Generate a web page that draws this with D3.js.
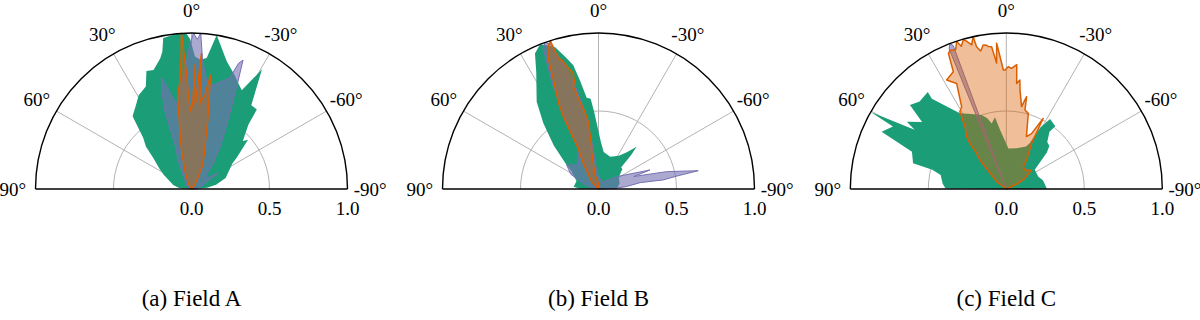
<!DOCTYPE html>
<html>
<head>
<meta charset="utf-8">
<script src="https://cdn.jsdelivr.net/npm/d3@7"></script>
<style>
  body { margin: 0; background: #fff; }
</style>
</head>
<body>
<svg id="chart" width="1200" height="320"></svg>
<script>
const angleTicks = [90, 60, 30, 0, -30, -60, -90];
const gridAngles = [60, 30, 0, -30, -60];
const radiusTicks = [0.0, 0.5, 1.0];
const captions = ["(a) Field A", "(b) Field B", "(c) Field C"];
const seriesColors = ["#1b9e77", "#7570b3", "#d95f02"];

// vertices as [angle in degrees (positive = left of 0°), normalised radius]
const greenA = [[0,0],[-85,0.1],[-80,0.16],[-72,0.23],[-58,0.31],[-55.5,0.35],[-49,0.48],[-47,0.45],
  [-41.5,0.55],[-39.4,0.66],[-35.5,0.66],[-30.5,0.89],[-27,0.71],[-24,0.74],[-20.8,0.78],[-15.4,0.85],
  [-9.3,1.0],[-6.6,0.845],[-4,0.83],[-1.5,0.85],[0.5,0.96],[2,1.0],[5.5,1.0],[10.6,0.985],[12,0.9],
  [13.5,0.86],[17.7,0.8],[20.9,0.81],[24,0.72],[29.4,0.69],[33,0.65],[39,0.6],[43.4,0.45],[47,0.4],
  [51,0.315],[58,0.24],[63,0.2],[70,0.15],[77.8,0.12],[85,0.08]];
const purpleA = [[0,0],[-85,0.04],[-70,0.08],[-63,0.12],[-59,0.2],[-56,0.13],[-48,0.12],[-40,0.22],
  [-33,0.35],[-27,0.54],[-23.8,0.72],[-21.8,0.89],[-20.5,0.86],[-19,0.75],[-16,0.72],[-12,0.68],
  [-8,0.7],[-5,0.82],[-3.4,1.0],[-2.2,0.96],[-0.7,1.0],[1,0.9],[2.5,0.8],[5,0.7],[8,0.6],[10,0.55],
  [13,0.65],[15,0.737],[17,0.65],[18.8,0.526],[20.4,0.3],[25,0.2],[29,0.13],[40,0.06],[60,0.03]];
const orangeA = [[0,0],[-40,0.03],[-30,0.08],[-25,0.17],[-20,0.24],[-16,0.33],[-13,0.47],[-11.5,0.55],
  [-9.5,0.74],[-8,0.6],[-6.5,0.58],[-5.5,0.55],[-4.2,0.87],[-3,0.6],[-2.5,0.55],[-1.7,0.8],[-0.8,0.55],
  [0.5,0.5],[1.5,0.55],[2.5,0.75],[3.7,1.0],[4.5,0.85],[6,0.7],[8.5,0.6],[9,0.55],[10,0.45],[12,0.35],
  [15,0.24],[20,0.12],[30,0.04]];

const greenB = [[0,0],[-88,0.12],[-75,0.14],[-60,0.15],[-50,0.2],[-46.3,0.2],[-44,0.3],[-42,0.365],
  [-38,0.3],[-31.5,0.25],[-20,0.22],[-8,0.24],[-3,0.3],[3.3,0.5],[5,0.58],[7.4,0.59],[9.6,0.7],
  [11.5,0.81],[14,0.87],[17,0.95],[19.8,0.98],[22,1.0],[25.1,0.96],[28,0.85],[32,0.75],[35.3,0.686],
  [40,0.55],[45.8,0.4],[50,0.3],[53,0.256],[57,0.205],[62,0.18],[70,0.15],[84.7,0.16],[89,0.12]];
const purpleB = [[0,0],[-88,0.1],[-85,0.18],[-81.3,0.27],[-82,0.42],[-80.6,0.51],[-79.6,0.65],
  [-75.7,0.45],[-70.5,0.24],[-69.7,0.352],[-58.8,0.161],[-30,0.05],[5,0.1],[8,0.3],[10,0.5],[13,0.7],
  [16,0.85],[18.5,0.98],[20,1.0],[21.5,0.97],[23.5,0.75],[25.5,0.5],[26.5,0.3],[40,0.2],[53,0.256],
  [62,0.2],[75,0.08]];
const orangeB = [[0,0],[-10,0.02],[5,0.05],[14,0.09],[10.4,0.243],[9.2,0.275],[8.6,0.437],[10,0.5],
  [12,0.572],[13.8,0.676],[12.7,0.7],[12.3,0.759],[14,0.8],[15.9,0.86],[17.1,0.876],[18,0.995],
  [19.5,0.97],[21,0.9],[22.5,0.756],[25,0.6],[25.9,0.516],[26.4,0.3],[30.6,0.191],[43,0.064]];

const greenC = [[0,0],[-89.5,0.26],[-80,0.245],[-76,0.24],[-69,0.22],[-56,0.22],[-48,0.35],[-45,0.39],
  [-41,0.4],[-37,0.46],[-38,0.51],[-32,0.53],[-29,0.45],[-27,0.33],[-25,0.3],[-14,0.27],[-3,0.26],
  [6,0.38],[9,0.465],[12.6,0.43],[15,0.47],[18.4,0.5],[25,0.53],[31.5,0.57],[39.5,0.75],[39,0.8],
  [44.7,0.79],[48.9,0.82],[51.5,0.69],[55.9,0.77],[57.1,0.7],[60.4,1.0],[61.1,0.83],[65.3,0.88],
  [68.5,0.65],[74.6,0.62],[75.5,0.49],[78,0.43],[85,0.41],[89.5,0.39]];
const purpleC = [[0,0],[22.2,0.97],[21.2,1.0],[20.3,0.98]];
const orangeC = [[0,0],[-65,0.08],[-60,0.14],[-53,0.2],[-45,0.17],[-37.3,0.18],[-35,0.227],[-29,0.335],
  [-27.6,0.51],[-24.5,0.39],[-21,0.36],[-16.2,0.505],[-13.3,0.52],[-12.4,0.606],[-10.5,0.537],
  [-7.9,0.64],[-7.1,0.704],[-5.6,0.68],[-4.8,0.8],[-2.5,0.774],[-0.9,0.784],[0.6,0.763],[1.4,0.763],
  [3.8,0.936],[4.4,0.81],[5.9,0.917],[7.2,0.92],[7.8,0.93],[9.1,0.935],[10.5,0.9],[11.8,0.932],
  [12.3,1.0],[13.5,0.95],[15.5,0.99],[16.1,0.994],[17.5,0.96],[18.6,0.997],[20,0.95],[22,0.96],
  [23.1,0.946],[24.3,0.825],[28.7,0.797],[25.2,0.748],[28.5,0.6],[31,0.578],[33.5,0.48],[37.2,0.42],
  [37.8,0.397],[38.5,0.374],[39.8,0.297],[42.2,0.251],[43.7,0.198],[46.3,0.13],[52.8,0.078]];

const panels = [
  { cx: 191.5, caption: captions[0], series: [greenA, purpleA, orangeA] },
  { cx: 598.5, caption: captions[1], series: [greenB, purpleB, orangeB] },
  { cx: 1006.3, caption: captions[2], series: [greenC, purpleC, orangeC] }
];

const cy = 189, R = 156;
const rad = Math.PI / 180;
const fillOpacity = [1, 0.6, 0.4];
const strokeWidth = [0, 1, 1.5];
const serif = "'Liberation Serif', 'Times New Roman', Times, serif";

const r = d3.scaleLinear().domain([0, 1]).range([0, R]);

const radial = d3.lineRadial()
    .angle(d => -d[0] * rad)
    .radius(d => r(d[1]))
    .curve(d3.curveLinearClosed);

function halfCircle(radius) {
  const p = d3.path();
  p.moveTo(-radius, 0);
  p.arc(0, 0, radius, Math.PI, 2 * Math.PI);
  return p.toString();
}

const svg = d3.select("#chart")
    .attr("font-family", serif);

panels.forEach(function(panel) {
  const g = svg.append("g")
      .attr("transform", "translate(" + panel.cx + "," + cy + ")");

  // grid
  g.selectAll("line.grid")
    .data(gridAngles)
    .enter().append("line")
      .attr("class", "grid")
      .attr("x1", 0).attr("y1", 0)
      .attr("x2", d => d3.pointRadial(-d * rad, R)[0])
      .attr("y2", d => d3.pointRadial(-d * rad, R)[1])
      .attr("stroke", "#b3b3b3")
      .attr("stroke-width", 1);

  g.append("path")
      .attr("d", halfCircle(r(0.5)))
      .attr("fill", "none")
      .attr("stroke", "#b3b3b3")
      .attr("stroke-width", 1);

  // series
  g.selectAll("path.series")
    .data(panel.series)
    .enter().append("path")
      .attr("class", "series")
      .attr("d", radial)
      .attr("fill", (d, i) => seriesColors[i])
      .attr("fill-opacity", (d, i) => fillOpacity[i])
      .attr("stroke", (d, i) => strokeWidth[i] ? seriesColors[i] : "none")
      .attr("stroke-width", (d, i) => strokeWidth[i])
      .attr("stroke-linejoin", "round");

  // frame
  g.append("path")
      .attr("d", halfCircle(R))
      .attr("fill", "none")
      .attr("stroke", "#000")
      .attr("stroke-width", 1.4);
  g.append("line")
      .attr("x1", -R).attr("x2", R)
      .attr("y1", 0).attr("y2", 0)
      .attr("stroke", "#000")
      .attr("stroke-width", 1.4);

  // angle labels
  g.selectAll("text.angle")
    .data(angleTicks)
    .enter().append("text")
      .attr("class", "angle")
      .attr("x", d => d3.pointRadial(-d * rad, R * 1.145)[0])
      .attr("y", d => d3.pointRadial(-d * rad, R * 1.145)[1])
      .attr("text-anchor", "middle")
      .attr("dominant-baseline", "central")
      .attr("font-family", serif)
      .attr("font-size", 19)
      .text(d => d + "°");

  // radius labels
  g.selectAll("text.radius")
    .data(radiusTicks)
    .enter().append("text")
      .attr("class", "radius")
      .attr("x", d => r(d))
      .attr("y", 19)
      .attr("text-anchor", "middle")
      .attr("dominant-baseline", "central")
      .attr("font-family", serif)
      .attr("font-size", 19)
      .text(d => d3.format(".1f")(d));

  g.append("text")
      .attr("x", 0)
      .attr("y", 298 - cy)
      .attr("text-anchor", "middle")
      .attr("dominant-baseline", "central")
      .attr("font-family", serif)
      .attr("font-size", 23)
      .text(panel.caption);
});
</script>
</body>
</html>
